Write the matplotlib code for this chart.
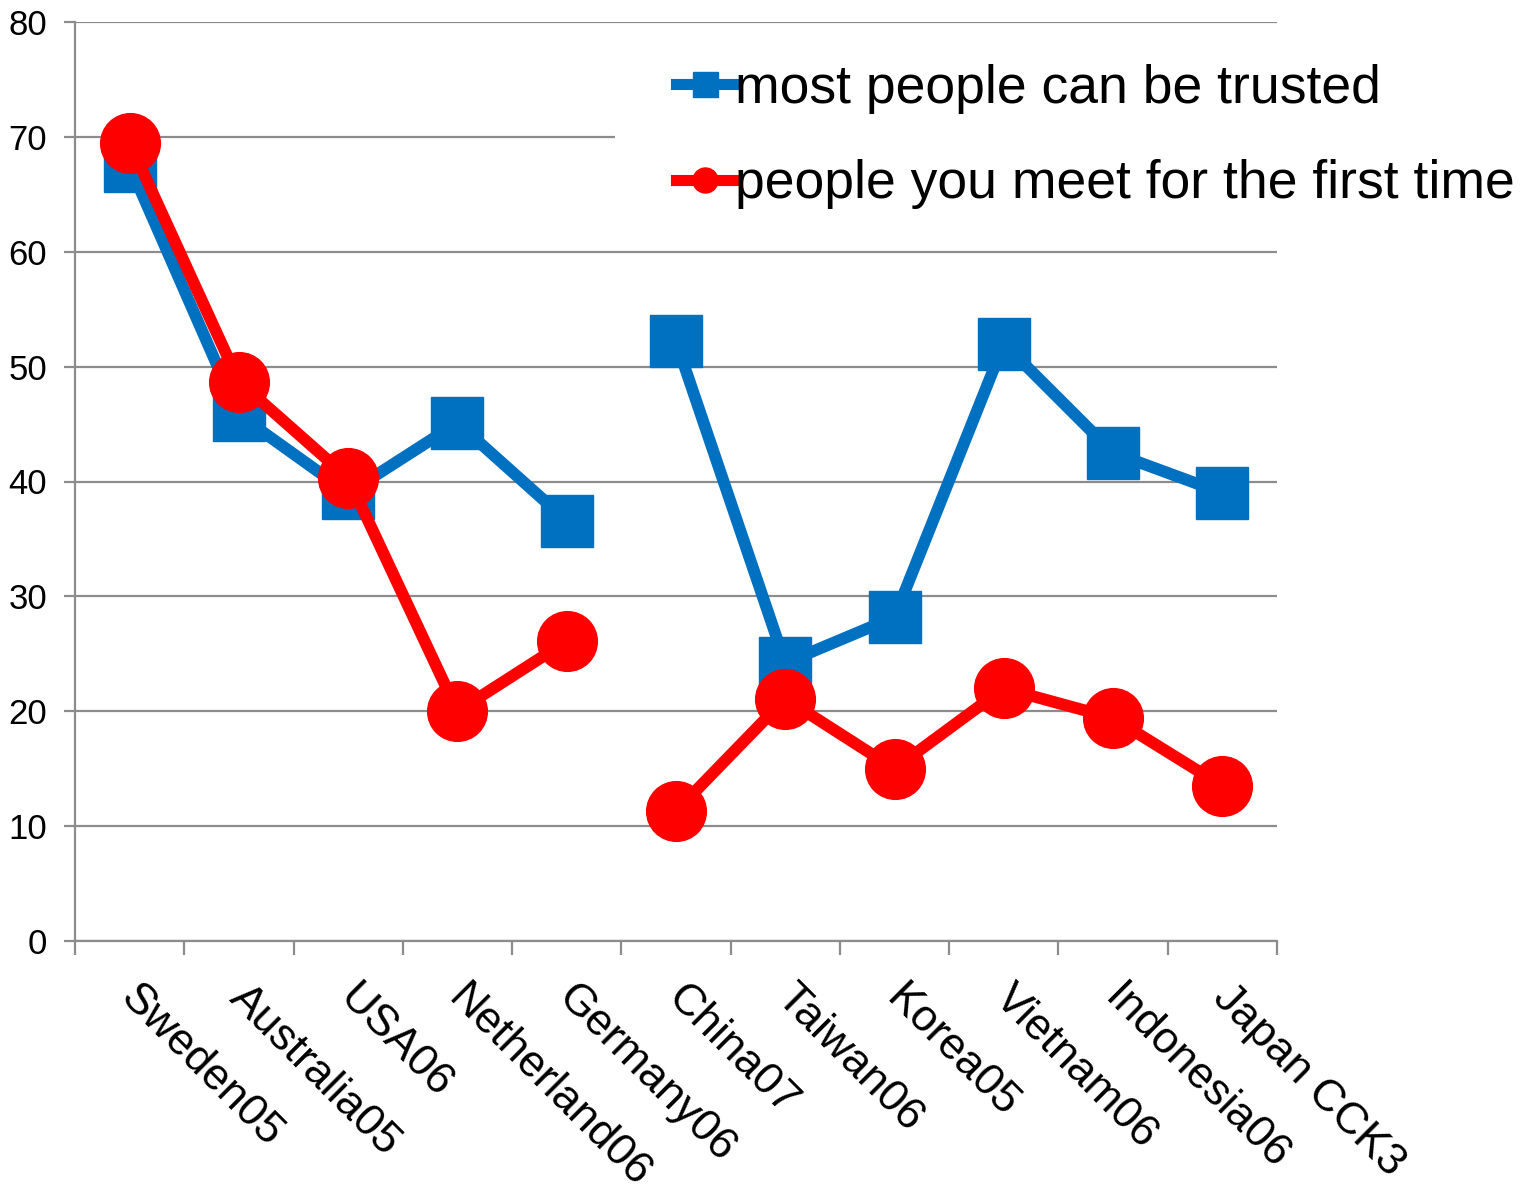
import matplotlib
matplotlib.use("Agg")
import matplotlib.pyplot as plt
import matplotlib.transforms as mtransforms
from matplotlib.lines import Line2D
from matplotlib.patches import Rectangle
import numpy as np

plt.rcParams['font.family'] = ['Liberation Sans', 'DejaVu Sans']

countries = ['Sweden05', 'Australia05', 'USA06', 'Netherland06', 'Germany06',
             'China07', 'Taiwan06', 'Korea05', 'Vietnam06', 'Indonesia06',
             'Japan CCK3']
trusted = [67.5, 45.8, 39.0, 45.1, 36.6, 52.2, 24.2, 28.2, 52.0, 42.5, 39.0]
first_time = [69.5, 48.7, 40.3, 20.0, 26.1, 11.3, 21.1, 15.0, 22.0, 19.4, 13.5]
# west / east groups are drawn as separate, unconnected runs
groups = [range(0, 5), range(5, 11)]

blue = '#0070C0'
red = '#FF0000'
grid = '#8C8C8C'

fig = plt.figure(figsize=(15.21, 11.99), dpi=100)
ax = fig.add_axes([75 / 1521, 1 - 941 / 1199, (1277 - 75) / 1521, (941 - 22) / 1199])

x = np.arange(len(countries))
for g in groups:
    idx = list(g)
    ax.plot(x[idx], [trusted[i] for i in idx], color=blue, lw=8.5,
            marker='s', ms=37, zorder=3)
for g in groups:
    idx = list(g)
    ax.plot(x[idx], [first_time[i] for i in idx], color=red, lw=8.5,
            marker='o', ms=43, zorder=4)

ax.set_xlim(-0.5, len(countries) - 0.5)
ax.set_ylim(0, 80)
ax.set_yticks(np.arange(0, 81, 10))
ax.yaxis.grid(True, color=grid, lw=1.6)
ax.set_axisbelow(True)
ax.tick_params(axis='y', length=8, width=1.6, color=grid, labelsize=25, pad=12)

ax.set_xticks(x)
ax.set_xticklabels(countries, rotation=-45, ha='left', va='top',
                   rotation_mode='anchor', fontsize=32)
ax.tick_params(axis='x', length=0, pad=26)
shift = mtransforms.ScaledTranslation(12 / 100, 0, fig.dpi_scale_trans)
for lab in ax.get_xticklabels():
    lab.set_transform(lab.get_transform() + shift)
ax.set_xticks(np.arange(-0.5, len(countries), 1), minor=True)
ax.tick_params(axis='x', which='minor', length=10, width=1.6, color=grid)

for side in ['top', 'right']:
    ax.spines[side].set_visible(False)
for side in ['left', 'bottom']:
    ax.spines[side].set_color(grid)
    ax.spines[side].set_linewidth(1.6)

# white panel behind the legend hides the gridline there
ax.add_patch(Rectangle((615 / 1521, 1 - 245 / 1199), 1 - 615 / 1521, 210 / 1199,
                       transform=fig.transFigure, facecolor='white',
                       edgecolor='none', clip_on=False, zorder=1.5))

handles = [Line2D([], [], color=blue, lw=8, marker='s', ms=18),
           Line2D([], [], color=red, lw=8, marker='o', ms=18)]
leg = ax.legend(handles, ['most people can be trusted',
                          'people you meet for the first time'],
                loc='upper left', bbox_to_anchor=(676 / 1521, 1 - 64 / 1199),
                bbox_transform=fig.transFigure, fontsize=38.5, frameon=False,
                handlelength=1.1, handletextpad=0.0,
                labelspacing=0.85, borderpad=0, borderaxespad=0)
leg.set_zorder(5)

fig.savefig('out.png', dpi=100)
